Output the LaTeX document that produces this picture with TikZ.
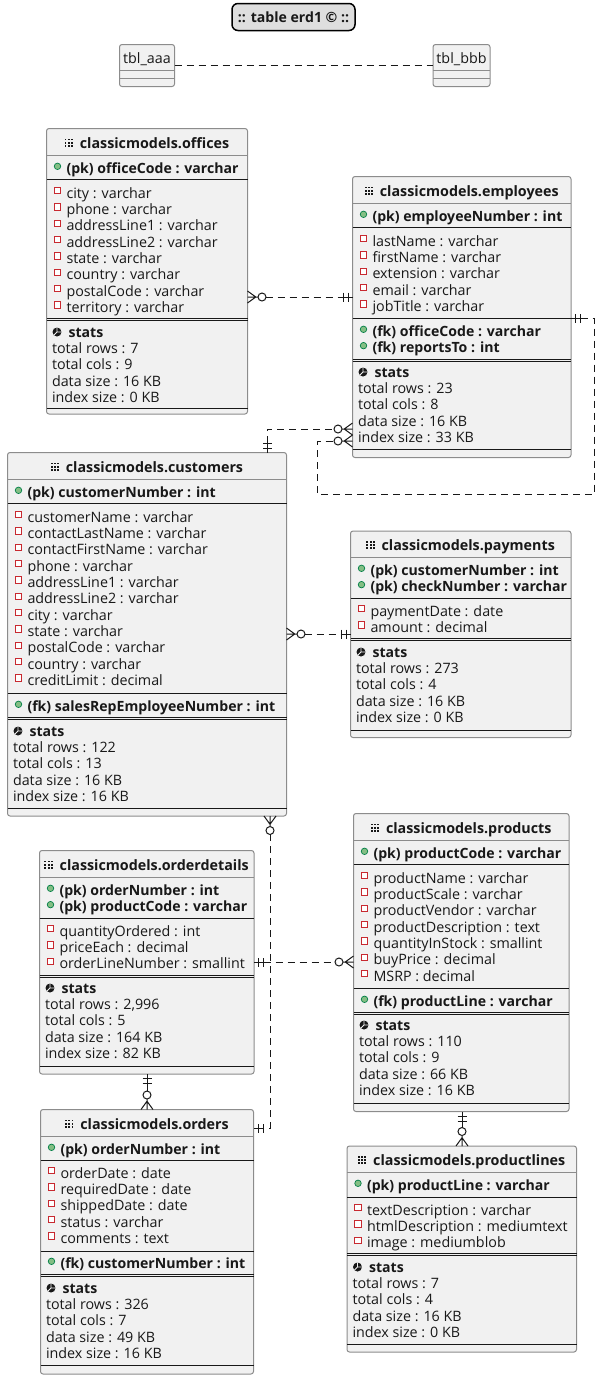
\documentclass[tikz,border=0pt]{standalone}
\usepackage{fontspec}
\setmainfont{Open Sans}
\usetikzlibrary{arrows.meta}

\definecolor{tblfill}{HTML}{F1F1F1}
\definecolor{tblborder}{HTML}{8C8C8C}
\definecolor{tblink}{HTML}{181818}
\definecolor{keygreen}{HTML}{84BE84}
\definecolor{keyedge}{HTML}{038048}
\definecolor{colred}{HTML}{C82930}

% crow's foot with a circle, and two bars, sized in pixels of the page
\pgfdeclarearrow{
  name=crowzero,
  setup code={
    \pgfarrowssettipend{0pt}\pgfarrowssetbackend{-18.5pt}\pgfarrowssetlineend{-18pt}
    \pgfarrowshullpoint{0pt}{6pt}\pgfarrowshullpoint{0pt}{-6pt}
    \pgfarrowshullpoint{-18.5pt}{4pt}\pgfarrowshullpoint{-18.5pt}{-4pt}
  },
  drawing code={
    \pgfsetdash{}{0pt}
    \pgfpathcircle{\pgfqpoint{-14.5pt}{0pt}}{4pt}
    \pgfpathmoveto{\pgfqpoint{0pt}{6pt}}
    \pgfpathlineto{\pgfqpoint{-8.3pt}{0pt}}
    \pgfpathlineto{\pgfqpoint{0pt}{-6pt}}
    \pgfpathmoveto{\pgfqpoint{-10.5pt}{0pt}}
    \pgfpathlineto{\pgfqpoint{0pt}{0pt}}
    \pgfusepathqstroke
  }
}
\pgfdeclarearrow{
  name=onebars,
  setup code={
    \pgfarrowssettipend{0pt}\pgfarrowssetbackend{-10pt}\pgfarrowssetlineend{-9.5pt}
    \pgfarrowshullpoint{0pt}{4.5pt}\pgfarrowshullpoint{0pt}{-4.5pt}
    \pgfarrowshullpoint{-10pt}{4.5pt}\pgfarrowshullpoint{-10pt}{-4.5pt}
  },
  drawing code={
    \pgfsetdash{}{0pt}
    \pgfpathmoveto{\pgfqpoint{-4.5pt}{4.5pt}}
    \pgfpathlineto{\pgfqpoint{-4.5pt}{-4.5pt}}
    \pgfpathmoveto{\pgfqpoint{-9.5pt}{4.5pt}}
    \pgfpathlineto{\pgfqpoint{-9.5pt}{-4.5pt}}
    \pgfpathmoveto{\pgfqpoint{-9.5pt}{0pt}}
    \pgfpathlineto{\pgfqpoint{0pt}{0pt}}
    \pgfusepathqstroke
  }
}

\tikzset{
  erdtext/.style={font=\fontsize{14.3}{16}\selectfont,text=tblink,inner sep=0pt,outer sep=0pt},
  rowtext/.style={erdtext,anchor=base west},
  keytext/.style={rowtext,font=\fontsize{14.1}{16}\selectfont\bfseries},
  tblbox/.style={draw=tblborder,fill=tblfill,line width=1pt,rounded corners=2.5pt,anchor=north west,inner sep=0pt,outer sep=0pt},
  titletext/.style={keytext,anchor=base,font=\fontsize{14.3}{16}\selectfont\bfseries},
  titleline/.style={draw=tblborder,line width=1pt},
  sepline/.style={draw=tblink,line width=1pt},
  keydot/.style={circle,draw=keyedge,fill=keygreen,line width=0.7pt,minimum size=6.5pt,inner sep=0pt},
  colmark/.style={rectangle,draw=colred,fill=white,line width=0.9pt,minimum size=6.2pt,inner sep=0pt},
  pieicon/.style={circle,fill=tblink,minimum size=9pt,inner sep=0pt},
  relline/.style={draw=tblink,line width=1pt,dash pattern=on 7pt off 5pt},
}

% name, x, y, width, height, title
\newcommand{\erdbox}[6]{
  \node[tblbox,minimum width=#4,minimum height=#5] (#1) at (#2,#3) {};
  \node[titletext] (#1-title) at ([xshift=7.5pt]#1.north |- 0,#3+19.5) {#6};
  \foreach \a in {0,1,2} {
    \foreach \b in {0,1,2} {
      \fill[tblink] ([xshift=\a*3.2pt-15.2pt,yshift=\b*3.2pt+1.2pt]#1-title.base west) rectangle ++(1.9,-1.9);
    }
  }
  \draw[titleline] (#1.west |- 0,#3+26.5) -- (#1.east |- 0,#3+26.5);
}
% name, y of the line
\newcommand{\rowline}[2]{\draw[sepline] (#1.west |- 0,#2) -- (#1.east |- 0,#2);}
\newcommand{\rowdouble}[2]{
  \draw[sepline] (#1.west |- 0,#2-1) -- (#1.east |- 0,#2-1);
  \draw[sepline] (#1.west |- 0,#2+1) -- (#1.east |- 0,#2+1);
}
% [kind of key], name, y of the first row, rows
\newcommand{\keyrows}[4][key]{
  \foreach[count=\i,evaluate={\y=#3+(\i-1)*16.35}] \t in {#4} {
    \node[keytext] (#2-#1-\i) at ([xshift=20pt]#2.west |- 0,\y+5) {\t};
    \node[keydot] (#2-#1dot-\i) at ([xshift=11pt]#2.west |- 0,\y-1.7) {};
  }
}
\newcommand{\colrows}[3]{
  \foreach[count=\i,evaluate={\y=#2+(\i-1)*16.35}] \t in {#3} {
    \node[rowtext] (#1-col-\i) at ([xshift=20pt]#1.west |- 0,\y+5) {\t};
    \node[colmark] (#1-mark-\i) at ([xshift=11pt]#1.west |- 0,\y-2.5) {};
  }
}
\newcommand{\statrows}[3]{
  \node[pieicon] (#1-pie) at ([xshift=10.5pt]#1.west |- 0,#2) {};
  \draw[tblfill,line width=0.9pt] (#1-pie.north) -- (#1-pie.center) -- (#1-pie.east) (#1-pie.center) -- (#1-pie.south west);
  \node[keytext] (#1-stats) at ([xshift=22pt]#1.west |- 0,#2+5) {stats};
  \foreach[count=\i,evaluate={\y=#2+\i*16.35}] \t in {#3} {
    \node[rowtext] (#1-stat-\i) at ([xshift=5.5pt]#1.west |- 0,\y+5) {\t};
  }
}

\begin{document}
\begin{tikzpicture}[x=1pt,y=-1pt]
  \useasboundingbox (0,0) rectangle (600,1379);

  \node[draw=black,fill=black!13,line width=1.5pt,rounded corners=6pt,minimum width=123,minimum height=27,anchor=north west,erdtext,font=\fontsize{14.1}{16}\selectfont\bfseries] (header) at (232,3.5) {:: table erd1 © ::};

  \node[tblbox,minimum width=55,minimum height=42] (aaa) at (119.5,44.5) {};
  \node[erdtext,anchor=base] (aaa-title) at ([yshift=-19pt]aaa.north) {tbl\_aaa};
  \node[tblbox,minimum width=57,minimum height=42] (bbb) at (433,44.5) {};
  \node[erdtext,anchor=base] (bbb-title) at ([yshift=-19pt]bbb.north) {tbl\_bbb};
  \foreach \n in {aaa,bbb} {
    \draw[titleline] (\n.west |- 0,70.5) -- (\n.east |- 0,70.5);
    \draw[titleline] (\n.west |- 0,78.5) -- (\n.east |- 0,78.5);
  }
  \draw[relline] (aaa.east |- 0,65) -- (bbb.west |- 0,65);

  \erdbox{offices}{46.5}{128.5}{201}{285.5}{classicmodels.offices}
  \keyrows{offices}{168}{(pk) officeCode : varchar}
  \rowline{offices}{179}
  \colrows{offices}{193}{city : varchar,phone : varchar,addressLine1 : varchar,addressLine2 : varchar,state : varchar,country : varchar,postalCode : varchar,territory : varchar}
  \rowdouble{offices}{319}
  \statrows{offices}{332}{total rows : 7,total cols : 9,data size : 16 KB,index size : 0 KB}
  \rowline{offices}{408}

  \erdbox{employees}{352.5}{176.5}{218.5}{281}{classicmodels.employees}
  \keyrows{employees}{216}{(pk) employeeNumber : int}
  \rowline{employees}{227}
  \colrows{employees}{241}{lastName : varchar,firstName : varchar,extension : varchar,email : varchar,jobTitle : varchar}
  \rowline{employees}{318.5}
  \keyrows[fk]{employees}{331}{(fk) officeCode : varchar,(fk) reportsTo : int}
  \rowdouble{employees}{360}
  \statrows{employees}{372}{total rows : 23,total cols : 8,data size : 16 KB,index size : 33 KB}
  \rowline{employees}{449.5}

  \erdbox{customers}{7.5}{452.5}{279}{363.5}{classicmodels.customers}
  \keyrows{customers}{492}{(pk) customerNumber : int}
  \rowline{customers}{503.5}
  \colrows{customers}{517}{customerName : varchar,contactLastName : varchar,contactFirstName : varchar,phone : varchar,addressLine1 : varchar,addressLine2 : varchar,city : varchar,state : varchar,postalCode : varchar,country : varchar,creditLimit : decimal}
  \rowline{customers}{693}
  \keyrows[fk]{customers}{706}{(fk) salesRepEmployeeNumber : int}
  \rowdouble{customers}{718}
  \statrows{customers}{731}{total rows : 122,total cols : 13,data size : 16 KB,index size : 16 KB}
  \rowline{customers}{808}

  \erdbox{payments}{350.5}{531}{220.5}{206.5}{classicmodels.payments}
  \keyrows{payments}{570}{(pk) customerNumber : int,(pk) checkNumber : varchar}
  \rowline{payments}{598}
  \colrows{payments}{611}{paymentDate : date,amount : decimal}
  \rowdouble{payments}{639}
  \statrows{payments}{652}{total rows : 273,total cols : 4,data size : 16 KB,index size : 0 KB}
  \rowline{payments}{730}

  \erdbox{orderdetails}{39.5}{850.5}{214.5}{223.5}{classicmodels.orderdetails}
  \keyrows{orderdetails}{890}{(pk) orderNumber : int,(pk) productCode : varchar}
  \rowline{orderdetails}{918}
  \colrows{orderdetails}{931}{quantityOrdered : int,priceEach : decimal,orderLineNumber : smallint}
  \rowdouble{orderdetails}{976}
  \statrows{orderdetails}{988}{total rows : {2,996},total cols : 5,data size : 164 KB,index size : 82 KB}
  \rowline{orderdetails}{1066}

  \erdbox{orders}{40.5}{1109.5}{213}{264.5}{classicmodels.orders}
  \keyrows{orders}{1149}{(pk) orderNumber : int}
  \rowline{orders}{1160}
  \colrows{orders}{1173}{orderDate : date,requiredDate : date,shippedDate : date,status : varchar,comments : text}
  \rowline{orders}{1251}
  \keyrows[fk]{orders}{1263}{(fk) customerNumber : int}
  \rowdouble{orders}{1275}
  \statrows{orders}{1288}{total rows : 326,total cols : 7,data size : 49 KB,index size : 16 KB}
  \rowline{orders}{1365}

  \erdbox{products}{353.5}{813.5}{215.5}{298}{classicmodels.products}
  \keyrows{products}{853}{(pk) productCode : varchar}
  \rowline{products}{864}
  \colrows{products}{878}{productName : varchar,productScale : varchar,productVendor : varchar,productDescription : text,quantityInStock : smallint,buyPrice : decimal,MSRP : decimal}
  \rowline{products}{988}
  \keyrows[fk]{products}{1001}{(fk) productLine : varchar}
  \rowdouble{products}{1013}
  \statrows{products}{1025}{total rows : 110,total cols : 9,data size : 66 KB,index size : 16 KB}
  \rowline{products}{1103}

  \erdbox{productlines}{347}{1146}{229.5}{206}{classicmodels.productlines}
  \keyrows{productlines}{1185}{(pk) productLine : varchar}
  \rowline{productlines}{1197}
  \colrows{productlines}{1210}{textDescription : varchar,htmlDescription : mediumtext,image : mediumblob}
  \rowdouble{productlines}{1254}
  \statrows{productlines}{1267}{total rows : 7,total cols : 4,data size : 16 KB,index size : 0 KB}
  \rowline{productlines}{1344}

  % relations
  \draw[relline,crowzero-onebars] (offices.east |- 0,297) -- (employees.west |- 0,297);
  \draw[relline,onebars-crowzero] (267,0 |- customers.north) -- (267,429) -- (employees.west |- 0,429);
  \draw[relline,onebars-crowzero] (employees.east |- 0,318) -- (594,318) -- (594,494) -- (317,494) -- (317,441) -- (employees.west |- 0,441);
  \draw[relline,crowzero-onebars] (customers.east |- 0,634) -- (payments.west |- 0,634);
  \draw[relline,crowzero-onebars] (270,0 |- customers.south) -- (270,1128) -- (orders.east |- 0,1128);
  \draw[relline,onebars-crowzero] (orderdetails.east |- 0,962) -- (products.west |- 0,962);
  \draw[relline,onebars-crowzero] (147,0 |- orderdetails.south) -- (147,0 |- orders.north);
  \draw[relline,onebars-crowzero] (462,0 |- products.south) -- (462,0 |- productlines.north);
\end{tikzpicture}
\end{document}
